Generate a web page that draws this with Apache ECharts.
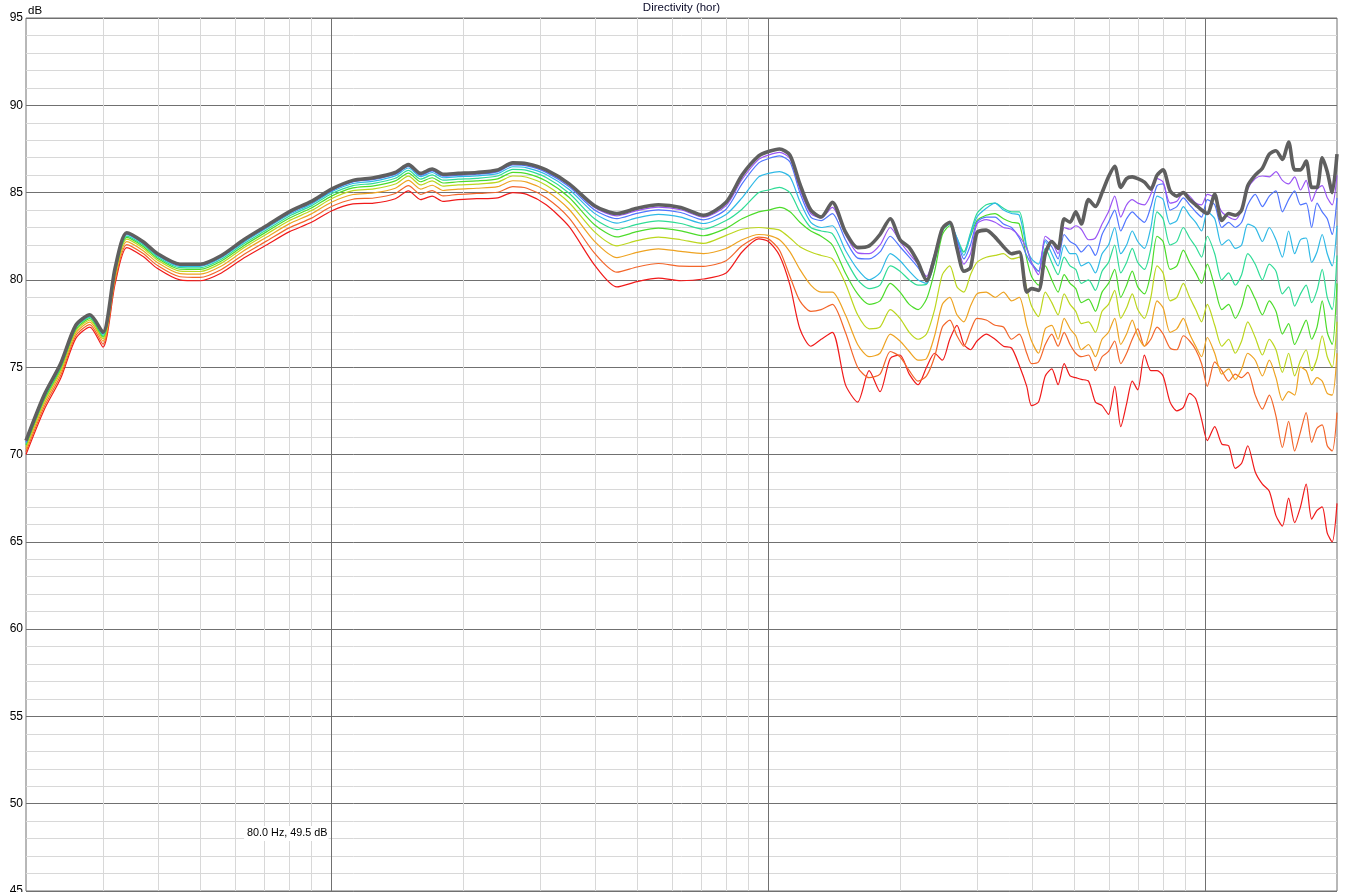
<!DOCTYPE html>
<html><head><meta charset="utf-8">
<script src="https://cdn.jsdelivr.net/npm/echarts@6/dist/echarts.min.js"></script>
<style>html,body{margin:0;padding:0;background:#fff}#c{width:1345px;height:892px}</style>
</head><body><div id="c"></div>
<script>
// ---- data ----
const freqs = [20,22,24,26,28,30,32,34,37,40,45,50,56,63,71,80,90,100,112,125,140,150,160,170,180,195,215,240,260,280,310,350,400,450,500,560,630,710,800,870,950,1000,1060,1120,1180,1250,1320,1400,1500,1600,1700,1800,1900,2000,2100,2200,2300,2400,2500,2600,2700,2800,2900,3000,3150,3300,3450,3600,3750,3900,4000,4150,4300,4450,4600,4750,4900,5050,5200,5400,5600,5800,6000,6200,6400,6600,6800,7000,7250,7500,7750,8000,8300,8600,8900,9200,9500,9800,10100,10500,10900,11300,11700,12100,12500,13000,13500,14000,14500,15000,15500,16000,16500,17000,17500,18000,18500,19000,19500,20000];

const deg0 = [70.8,73.4,75.2,77.4,78.0,77.0,80.7,82.7,82.2,81.5,80.9,80.9,81.4,82.3,83.1,83.9,84.5,85.2,85.7,85.85,86.15,86.6,86.1,86.35,86.05,86.1,86.15,86.3,86.7,86.65,86.3,85.5,84.25,83.8,84.1,84.3,84.15,83.7,
84.45,86.0,87.1,87.35,87.5,
87.15,85.5,84.0,83.6,84.45,82.75,81.85,81.95,82.6,83.5,82.3,81.85,81.0,79.95,81.3,82.95,83.3,81.8,80.5,80.7,82.7,82.85,82.45,
81.9,81.5,81.6,79.3,79.5,79.4,81.5,82.2,81.8,83.5,83.3,83.9,83.2,84.6,84.2,85.0,85.9,86.5,85.3,85.8,85.9,85.8,85.6,85.2,86.0,86.3,85.1,84.8,85.0,84.6,84.3,84.0,83.8,84.9,83.4,83.8,83.7,84.0,85.4,86.0,86.4,87.2,87.4,86.9,87.9,86.3,86.3,86.8,85.3,85.3,87.0,86.2,85.0,87.2];

const deg10 = [70.8,73.4,75.17,77.38,77.98,76.97,80.67,82.67,82.17,81.47,80.87,80.87,81.37,82.27,83.07,83.87,84.46,85.16,85.66,85.81,86.1,86.55,86.05,86.3,86.0,86.05,86.1,86.25,86.65,86.6,86.24,85.43,84.15,83.67,83.97,84.17,84.02,83.59,
84.25,85.75,86.9,87.15,87.3,
86.95,85.2,83.8,83.55,84.15,82.6,81.55,81.5,82.0,83.0,82.2,81.5,80.9,80.2,81.5,83.0,83.3,82.1,80.9,81.5,83.2,83.45,83.3,
83.0,82.9,82.5,81.8,81.0,80.3,82.5,82.2,81.5,83.0,82.9,83.1,82.9,82.3,82.4,83.2,83.9,84.8,83.6,84.3,84.6,84.4,84.3,84.9,85.8,85.6,84.4,84.5,85.0,84.8,84.4,84.3,84.9,84.7,83.9,83.6,83.45,84.0,85.2,85.8,85.95,85.9,86.2,85.7,85.5,85.9,85.15,85.7,84.5,85.2,85.4,84.7,84.3,86.0];

const deg20 = [70.7,73.3,75.14,77.35,77.95,76.94,80.64,82.64,82.14,81.44,80.84,80.83,81.33,82.23,83.02,83.82,84.42,85.11,85.61,85.75,86.05,86.5,86.0,86.24,85.94,86.0,86.05,86.19,86.58,86.53,86.16,85.33,84.01,83.51,83.81,84.01,83.86,83.44,
84.05,85.5,86.7,86.95,87.1,
86.75,85.0,83.6,83.4,83.8,82.3,81.25,81.2,81.6,82.5,81.9,81.3,80.7,80.0,81.4,83.0,83.25,82.3,81.2,82.0,83.3,83.6,83.6,
83.2,83.0,82.4,81.4,80.9,80.5,82.3,81.9,81.2,82.6,82.2,82.0,81.6,82.0,81.4,82.6,83.3,84.0,82.8,83.5,83.9,83.6,83.3,84.2,85.4,85.5,84.0,84.2,84.7,84.3,83.9,83.6,84.6,84.3,83.0,83.3,83.0,83.3,84.3,84.9,84.2,84.8,85.1,83.9,84.6,85.1,84.3,84.4,83.0,84.4,83.9,83.5,82.6,84.7];

const deg30 = [70.7,73.29,75.09,77.3,77.91,76.89,80.58,82.59,82.09,81.39,80.78,80.78,81.27,82.16,82.96,83.75,84.34,85.04,85.52,85.66,85.96,86.41,85.91,86.15,85.85,85.91,85.96,86.09,86.48,86.42,86.04,85.18,83.81,83.25,83.55,83.75,83.6,83.23,
83.75,84.7,85.9,86.1,86.2,
85.9,84.5,83.3,83.0,83.1,81.7,80.6,80.0,80.4,81.5,81.1,80.5,80.0,79.8,81.2,82.9,83.2,82.4,81.4,82.6,83.6,84.1,84.4,
84.0,83.8,83.7,81.8,81.2,80.9,82.2,81.5,80.8,82.0,81.5,81.5,80.8,81.0,80.4,81.5,82.0,83.0,81.5,82.0,82.8,82.2,81.8,83.0,84.8,84.6,83.2,83.4,84.2,83.7,83.3,82.8,83.9,83.5,82.0,82.3,81.8,82.0,83.2,83.0,82.2,83.0,82.3,81.3,82.8,81.5,82.3,82.4,81.0,81.6,82.6,81.5,80.8,83.1];

const deg40 = [70.62,73.21,75.01,77.24,77.85,76.81,80.5,82.51,82.01,81.31,80.7,80.69,81.18,82.07,82.86,83.65,84.24,84.93,85.4,85.53,85.82,86.27,85.77,86.01,85.71,85.77,85.82,85.95,86.33,86.27,85.86,84.96,83.5,82.88,83.18,83.38,83.23,82.9,
83.4,84.05,85.0,85.15,85.3,
85.0,83.9,83.0,82.8,82.65,81.2,80.0,79.5,79.7,80.8,80.5,80.0,79.7,79.75,81.0,82.8,83.2,82.4,81.6,82.7,83.8,84.3,84.4,
84.1,83.9,83.9,81.9,81.0,80.5,81.8,81.0,80.3,81.3,80.8,80.6,79.8,80.0,79.4,80.5,81.0,82.0,80.4,81.0,81.8,81.0,80.6,81.8,83.9,83.5,82.0,82.2,83.0,82.4,81.9,81.3,82.5,81.5,80.0,80.4,79.7,80.3,81.5,80.9,80.0,80.9,80.5,79.2,79.6,78.5,79.2,79.7,78.7,79.4,80.6,79.0,78.3,81.4];

const deg50 = [70.54,73.13,74.93,77.16,77.78,76.73,80.41,82.43,81.93,81.23,80.61,80.6,81.08,81.96,82.75,83.53,84.12,84.8,85.27,85.39,85.67,86.12,85.62,85.85,85.55,85.62,85.67,85.79,86.16,86.09,85.66,84.72,83.16,82.46,82.76,82.96,82.81,82.53,
82.95,83.5,83.9,84.0,84.15,
83.9,83.3,82.8,82.5,82.0,80.4,79.2,78.6,78.8,79.8,79.3,78.6,78.3,78.9,80.5,82.6,83.1,82.2,81.6,82.5,83.4,83.7,83.8,
83.5,83.3,83.2,81.2,80.2,79.7,80.8,80.0,79.3,80.3,79.8,79.5,78.7,78.9,78.2,79.3,79.8,80.6,79.0,79.7,80.5,79.6,79.2,80.4,82.5,82.2,80.6,80.8,81.7,81.0,80.4,79.8,80.9,79.6,78.3,78.6,77.8,78.5,79.7,78.9,78.0,78.8,78.2,76.9,77.5,76.3,77.0,77.7,76.6,77.3,78.8,77.0,76.3,79.8];

const deg60 = [70.45,73.03,74.83,77.07,77.69,76.63,80.3,82.33,81.83,81.13,80.5,80.48,80.96,81.84,82.62,83.39,83.97,84.65,85.11,85.21,85.49,85.94,85.44,85.67,85.37,85.44,85.49,85.6,85.95,85.88,85.42,84.42,82.75,81.95,82.25,82.45,82.3,82.09,
82.55,82.9,83.0,82.95,82.85,
82.4,81.9,81.6,81.4,81.2,79.8,78.0,77.2,77.3,78.3,77.8,77.0,76.6,76.9,78.3,80.3,80.8,79.6,79.3,80.3,81.0,81.3,81.4,
81.5,81.2,81.3,79.5,78.5,77.9,79.3,78.7,78.0,79.2,78.6,78.2,77.5,77.6,77.0,78.2,78.6,79.4,77.8,78.4,79.2,78.3,77.8,79.0,80.8,80.4,78.8,79.0,79.8,79.0,78.3,77.6,78.6,77.4,76.2,76.6,75.8,76.5,77.6,76.7,75.7,76.6,76.0,74.7,75.8,74.5,75.4,76.0,74.8,75.5,76.8,75.6,75.0,77.6];

const deg70 = [70.32,72.89,74.69,76.95,77.58,76.49,80.16,82.19,81.69,80.99,80.36,80.33,80.8,81.67,82.44,83.21,83.78,84.45,84.89,84.98,85.25,85.7,85.2,85.42,85.12,85.2,85.25,85.34,85.68,85.6,85.1,84.03,82.21,81.28,81.58,81.78,81.63,81.51,
81.8,82.3,82.6,82.55,82.3,
81.6,80.6,79.7,79.3,79.3,78.0,76.3,75.6,75.8,76.9,76.5,75.9,75.4,75.5,76.8,78.6,79.0,78.0,77.6,78.5,79.2,79.3,79.0,
79.3,78.8,79.0,77.4,76.5,75.8,77.2,77.4,76.6,77.8,77.2,76.8,76.0,76.3,75.6,76.6,77.0,77.8,76.3,76.9,77.7,76.8,76.2,77.3,78.8,78.4,77.0,77.2,77.8,76.9,76.2,75.6,76.7,75.8,74.6,74.9,74.3,74.9,75.8,75.4,74.5,75.4,74.4,73.1,73.6,73.4,75.0,74.8,74.0,74.4,74.2,73.5,73.4,75.8];

const deg80 = [70.16,72.72,74.52,76.8,77.44,76.32,79.98,82.02,81.52,80.82,80.18,80.14,80.6,81.46,82.22,82.98,83.54,84.2,84.62,84.69,84.95,85.4,84.9,85.11,84.81,84.9,84.95,85.02,85.34,85.25,84.7,83.54,81.53,80.44,80.74,80.94,80.79,80.78,
81.1,81.95,82.45,82.35,81.7,
80.2,78.8,78.2,78.3,78.6,77.0,75.0,74.4,74.6,75.9,75.6,74.8,74.2,74.5,75.6,77.3,77.7,76.8,76.2,77.1,77.8,77.7,77.4,
77.3,76.6,76.9,75.8,75.2,75.3,76.3,76.9,76.2,77.0,76.3,75.8,75.6,75.7,74.8,75.6,75.9,76.5,75.2,75.8,76.6,77.2,76.2,76.6,77.3,76.9,76.1,76.0,76.8,76.5,76.0,75.2,73.9,75.3,74.8,74.2,74.6,74.4,74.7,73.4,72.6,73.4,72.2,70.4,71.9,70.2,71.3,72.4,70.7,71.5,71.7,70.5,70.2,72.4];

const deg90 = [70.0,72.55,74.35,76.65,77.3,76.15,79.8,81.85,81.35,80.65,80.0,79.95,80.4,81.25,82.0,82.75,83.3,83.95,84.35,84.4,84.65,85.1,84.6,84.8,84.5,84.6,84.65,84.7,85.0,84.9,84.3,83.05,80.85,79.6,79.9,80.1,79.95,80.05,
80.4,81.6,82.35,82.2,81.4,
79.7,77.2,76.2,76.6,77.0,74.0,73.0,74.8,73.6,75.5,75.7,74.6,74.0,75.0,75.8,75.4,76.6,77.4,76.3,76.0,76.5,76.9,76.6,
76.2,76.1,75.1,73.9,72.8,73.0,74.5,74.9,74.0,75.2,74.5,74.4,74.3,74.2,73.0,72.8,72.3,73.9,71.6,72.9,74.2,73.7,75.7,74.8,74.8,74.5,73.0,72.5,72.7,73.5,73.2,72.0,70.8,71.6,70.6,70.5,69.2,69.5,70.5,69.0,68.3,67.9,66.5,65.9,67.5,66.1,67.0,68.3,66.3,66.8,67.0,65.5,65.0,67.2];

const seriesNames = ['0°','10°','20°','30°','40°','50°','60°','70°','80°','90°'];
const seriesValues = [deg0,deg10,deg20,deg30,deg40,deg50,deg60,deg70,deg80,deg90];
const xMinorLines = [30,40,50,60,70,80,90,200,300,400,500,600,700,800,900,2000,3000,4000,5000,6000,7000,8000,9000];
const xMajorLines = [100,1000,10000];
const yMin = 45, yMax = 95, yStep = 5;
const titleText = 'Directivity (hor)';
const unitText = 'dB';
const cursorText = '80.0 Hz, 49.5 dB';

// ---- styles ----
const colors = ['#5f5f5f','#9b55f5','#5075ff','#2fb9e6','#2fdc96','#4cdc2a','#bcd61e','#eea322','#f3662a','#f01a1a'];
const widths = [3.6,1.2,1.2,1.2,1.2,1.2,1.2,1.2,1.2,1.2];
const FONT = '"Liberation Sans", Arial, sans-serif';

const chart = echarts.init(document.getElementById('c'), null, {renderer:'canvas'});

function gridLines(list, color, z) {
  return {
    type: 'custom', silent: true, z: z, animation: false, clip: false,
    data: list.map(f => [f, yMax]),
    encode: {x: 0, y: 1},
    renderItem: function (params, api) {
      const pTop = api.coord([api.value(0), yMax]);
      const pBot = api.coord([api.value(0), yMin]);
      const x = Math.round(pTop[0]) + 0.5;
      return {type: 'line', shape: {x1: x, y1: pTop[1], x2: x, y2: pBot[1]},
              style: {stroke: color, lineWidth: 1}};
    }
  };
}

const curveSeries = [];
for (let k = seriesValues.length - 1; k >= 0; k--) {
  curveSeries.push({
    name: seriesNames[k], type: 'line', showSymbol: false, symbol: 'none',
    smooth: 0.25, animation: false, z: 10 + (seriesValues.length - k),
    lineStyle: {color: colors[k], width: widths[k]},
    itemStyle: {color: colors[k]},
    data: freqs.map((f, i) => [f, seriesValues[k][i]])
  });
}

chart.setOption({
  animation: false,
  backgroundColor: '#ffffff',
  grid: {left: 26, top: 18, width: 1311, height: 873, show: true, borderColor: '#707070', borderWidth: 1,
         backgroundColor: 'transparent', outerBoundsMode: 'none', containLabel: false},
  xAxis: {type: 'log', logBase: 10, min: 20, max: 20000,
    axisLine: {show: false}, axisTick: {show: false}, axisLabel: {show: false}, splitLine: {show: false}},
  yAxis: {type: 'value', min: yMin, max: yMax, interval: yStep,
    axisLine: {show: false}, axisTick: {show: false},
    axisLabel: {color: '#000', fontSize: 12, fontFamily: FONT, margin: 3, padding: [0, 0, 3, 0]},
    splitLine: {show: true, lineStyle: {color: '#707070', width: 1}},
    minorTick: {show: false, splitNumber: 5},
    minorSplitLine: {show: true, lineStyle: {color: '#d8d8d8', width: 1}}},
  graphic: [
    {type: 'text', x: 681.5, y: 8, z: 100, style: {text: titleText, align: 'center', verticalAlign: 'middle', fontSize: 11.5, fontFamily: FONT, fill: '#0a0a28'}},
    {type: 'text', x: 28, y: 11, z: 100, style: {text: unitText, align: 'left', verticalAlign: 'middle', fontSize: 11.5, fontFamily: FONT, fill: '#000'}},
    {type: 'text', x: 328.5, y: 833.5, z: 100, style: {text: cursorText, align: 'right', verticalAlign: 'middle', fontSize: 10.8, fontFamily: FONT, fill: '#000', backgroundColor: '#ffffff', padding: [2, 1, 2, 3]}}
  ],
  series: [gridLines(xMinorLines, '#d8d8d8', 1), gridLines(xMajorLines, '#707070', 2)].concat(curveSeries)
});
</script>
</body></html>
